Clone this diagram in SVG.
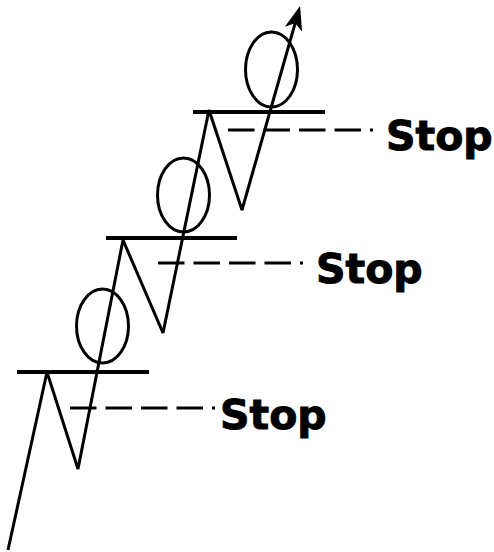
<svg xmlns="http://www.w3.org/2000/svg" width="494" height="552" viewBox="0 0 494 552">
  <style>
    .price { fill: none; stroke: #000; stroke-width: 3; stroke-linejoin: miter; stroke-miterlimit: 2; }
    .level { stroke: #000; stroke-width: 4; }
    .ring { fill: none; stroke: #000; stroke-width: 3; }
    .stop { stroke: #000; stroke-width: 2.8; stroke-dasharray: 26.5 9; }
    .lbl { font-family: "DejaVu Sans", Verdana, sans-serif; font-weight: bold; font-size: 41px; fill: #000; stroke: #000; stroke-width: 1; }
  </style>
  <defs>
    <marker id="arrow" markerUnits="userSpaceOnUse" markerWidth="26" markerHeight="20" refX="10" refY="9" orient="auto" overflow="visible">
      <path d="M0,0 L24,9 L0,18 L6,9 Z" fill="#000"/>
    </marker>
  </defs>

  <g id="levels">
    <line class="level" x1="17" y1="372" x2="149" y2="372"/>
    <line class="level" x1="106" y1="238" x2="237" y2="238"/>
    <line class="level" x1="193" y1="112" x2="325" y2="112"/>
  </g>

  <g id="rings">
    <ellipse class="ring" cx="102.5" cy="326" rx="26" ry="37"/>
    <ellipse class="ring" cx="183.5" cy="195" rx="26" ry="37"/>
    <ellipse class="ring" cx="271.5" cy="69.5" rx="26" ry="37.5"/>
  </g>

  <g id="connectors">
    <polyline class="price" points="8,550 47,372 78,469 123,240 163,333 209,110 242,210 296.2,19.5" marker-end="url(#arrow)"/>
    <line class="stop" x1="70" y1="408" x2="215" y2="408"/>
    <line class="stop" x1="158" y1="263" x2="303" y2="263"/>
    <line class="stop" x1="228" y1="130" x2="373" y2="130"/>
  </g>

  <g id="stop1"><text class="lbl" x="220" y="429">Stop</text></g>
  <g id="stop2"><text class="lbl" x="316" y="283">Stop</text></g>
  <g id="stop3"><text class="lbl" x="386" y="150">Stop</text></g>
</svg>
